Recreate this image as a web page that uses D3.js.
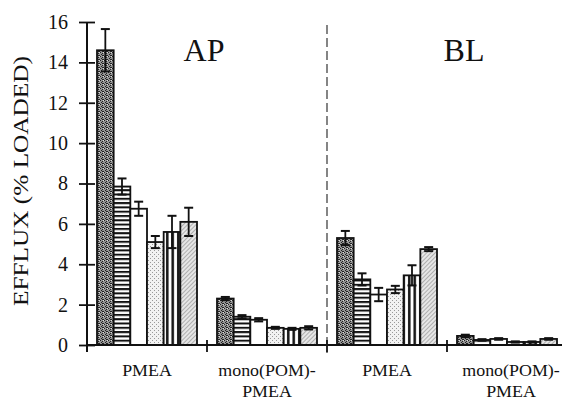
<!DOCTYPE html>
<html>
<head>
<meta charset="utf-8">
<script src="https://cdn.jsdelivr.net/npm/d3@7"></script>
<style>
  body { margin: 0; background: #fff; }
</style>
</head>
<body>
<svg id="chart" width="566" height="402"></svg>
<script>
// groups along the x axis
var groups = ["AP-PMEA", "AP-mono", "BL-PMEA", "BL-mono"];
var groupLabels = [["PMEA"], ["mono(POM)-", "PMEA"], ["PMEA"], ["mono(POM)-", "PMEA"]];
var sideLabels = ["AP", "BL"];

// six series (one per fill pattern), value per group
var series = ["s1", "s2", "s3", "s4", "s5", "s6"];
var means = [
  [14.6, 2.3, 5.3, 0.45],
  [7.85, 1.4, 3.25, 0.25],
  [6.75, 1.25, 2.5, 0.3],
  [5.1, 0.85, 2.75, 0.15],
  [5.6, 0.8, 3.45, 0.15],
  [6.1, 0.85, 4.75, 0.3]
];
var errs = [
  [1.05, 0.08, 0.35, 0.06],
  [0.4, 0.08, 0.3, 0.04],
  [0.35, 0.08, 0.33, 0.04],
  [0.3, 0.05, 0.18, 0.03],
  [0.8, 0.05, 0.5, 0.03],
  [0.7, 0.08, 0.1, 0.04]
];
var yTicks = [0, 2, 4, 6, 8, 10, 12, 14, 16];

var FONT = "Liberation Serif";
var svg = d3.select("#chart").attr("font-family", FONT);

var x0 = d3.scaleBand().domain(groups).range([87, 567]);
var x1 = d3.scaleBand().domain(series).range([10, 110]);
var y = d3.scaleLinear().domain([0, 16]).range([345, 22]);

/** patterns **/
var defs = svg.append("defs");

//dark stipple
var p1 = defs.append("pattern").attr("id", "pat0").attr("patternUnits", "userSpaceOnUse")
  .attr("width", 4).attr("height", 4);
p1.append("rect").attr("width", 4).attr("height", 4).attr("fill", "#959595");
[[0,0],[2,1],[1,2],[3,3],[2,3]].forEach(function(d){
  p1.append("rect").attr("x", d[0]).attr("y", d[1]).attr("width", 1).attr("height", 1).attr("fill", "#222");
});
p1.append("rect").attr("x", 3).attr("y", 0).attr("width", 1).attr("height", 1).attr("fill", "#ddd");

//horizontal stripes
var p2 = defs.append("pattern").attr("id", "pat1").attr("patternUnits", "userSpaceOnUse")
  .attr("width", 4).attr("height", 4.3);
p2.append("rect").attr("width", 4).attr("height", 4.3).attr("fill", "#fff");
p2.append("rect").attr("width", 4).attr("height", 2).attr("fill", "#111");

//plain white
var p3 = defs.append("pattern").attr("id", "pat2").attr("patternUnits", "userSpaceOnUse")
  .attr("width", 4).attr("height", 4);
p3.append("rect").attr("width", 4).attr("height", 4).attr("fill", "#fff");

//light dots
var p4 = defs.append("pattern").attr("id", "pat3").attr("patternUnits", "userSpaceOnUse")
  .attr("width", 4).attr("height", 4);
p4.append("rect").attr("width", 4).attr("height", 4).attr("fill", "#f2f2f2");
[[0,0],[2,2]].forEach(function(d){
  p4.append("rect").attr("x", d[0]).attr("y", d[1]).attr("width", 1).attr("height", 1).attr("fill", "#999");
});

//vertical stripes
var p5 = defs.append("pattern").attr("id", "pat4").attr("patternUnits", "userSpaceOnUse")
  .attr("width", 5.5).attr("height", 4);
p5.append("rect").attr("width", 5.5).attr("height", 4).attr("fill", "#fff");
p5.append("rect").attr("x", 1).attr("width", 2.5).attr("height", 4).attr("fill", "#111");

//light diagonal hatch
var p6 = defs.append("pattern").attr("id", "pat5").attr("patternUnits", "userSpaceOnUse")
  .attr("width", 3).attr("height", 3).attr("patternTransform", "rotate(45)");
p6.append("rect").attr("width", 3).attr("height", 3).attr("fill", "#e6e6e6");
p6.append("line").attr("x1", 0).attr("y1", 0).attr("x2", 0).attr("y2", 3)
  .attr("stroke", "#888").attr("stroke-width", 1.2);

/** bars **/
var barData = [];
series.forEach(function(s, i){
  groups.forEach(function(g, j){
    barData.push({s: s, si: i, g: g, v: means[i][j], e: errs[i][j]});
  });
});

var bars = svg.append("g").attr("class", "bars");

bars.selectAll("rect")
  .data(barData)
  .enter()
  .append("rect")
  .attr("x", function(d){ return x0(d.g) + x1(d.s); })
  .attr("y", function(d){ return y(d.v); })
  .attr("width", x1.bandwidth())
  .attr("height", function(d){ return y(0) - y(d.v); })
  .attr("fill", function(d){ return "url(#pat" + d.si + ")"; })
  .attr("stroke", "#111")
  .attr("stroke-width", 1.8);

//error bars
var eb = bars.selectAll(".err")
  .data(barData)
  .enter()
  .append("g")
  .attr("class", "err")
  .attr("transform", function(d){
    return "translate(" + (x0(d.g) + x1(d.s) + x1.bandwidth() / 2) + ",0)";
  });

eb.append("line")
  .attr("y1", function(d){ return y(d.v + d.e); })
  .attr("y2", function(d){ return y(d.v - d.e); })
  .attr("stroke", "#111").attr("stroke-width", 1.8);

eb.selectAll(".cap")
  .data(function(d){ return [d.v + d.e, d.v - d.e]; })
  .enter()
  .append("line")
  .attr("x1", -4.5).attr("x2", 4.5)
  .attr("y1", function(d){ return y(d); })
  .attr("y2", function(d){ return y(d); })
  .attr("stroke", "#111").attr("stroke-width", 2);

/** axes **/
var yAxis = svg.append("g").attr("class", "y-axis")
  .attr("transform", "translate(87,0)")
  .call(d3.axisLeft(y).tickValues(yTicks).tickSizeInner(8).tickSizeOuter(0).tickPadding(11));
yAxis.attr("font-family", FONT).attr("font-size", 20);
yAxis.select(".domain").attr("stroke", "#111").attr("stroke-width", 2)
  .attr("d", "M0," + y(16) + "V" + (y(0) + 7));
yAxis.selectAll(".tick line").attr("stroke", "#111").attr("stroke-width", 1.8)
  .attr("x1", -8).attr("x2", 8);
yAxis.selectAll(".tick text")
  .attr("font-family", FONT)
  .attr("font-size", 20).attr("fill", "#111");

//x axis line
svg.append("line")
  .attr("x1", 87).attr("x2", 562)
  .attr("y1", y(0)).attr("y2", y(0))
  .attr("stroke", "#111").attr("stroke-width", 2);

//group boundary ticks
svg.selectAll(".gtick")
  .data(groups.slice(1))
  .enter()
  .append("line")
  .attr("class", "gtick")
  .attr("x1", function(d){ return x0(d); })
  .attr("x2", function(d){ return x0(d); })
  .attr("y1", y(0) - 5).attr("y2", y(0) + 7)
  .attr("stroke", "#111").attr("stroke-width", 1.8);

//dashed separator between AP and BL
svg.append("line")
  .attr("x1", x0("BL-PMEA")).attr("x2", x0("BL-PMEA"))
  .attr("y1", 25).attr("y2", y(0) + 8)
  .attr("stroke", "#222").attr("stroke-width", 1.1)
  .attr("stroke-dasharray", "9,4");

//group labels (scanned type is a bit wide, so stretch horizontally)
var gl = svg.selectAll(".glabel")
  .data(groups)
  .enter()
  .append("g")
  .attr("class", "glabel")
  .attr("transform", function(d, i){
    var cx = x0(d) + x0.bandwidth() / 2 + (i == 3 ? 4 : 0);
    return "translate(" + cx + ",0) scale(1.12,1)";
  });

gl.selectAll("text")
  .data(function(d, i){ return groupLabels[i]; })
  .enter()
  .append("text")
  .attr("x", 0)
  .attr("y", function(d, k){ return 376 + k * 21; })
  .attr("text-anchor", "middle")
  .attr("font-family", FONT)
  .attr("font-size", 16)
  .attr("fill", "#111")
  .text(function(d){ return d; });

//AP / BL titles
svg.selectAll(".side")
  .data(sideLabels)
  .enter()
  .append("text")
  .attr("class", "side")
  .attr("x", function(d, i){ return i == 0 ? 204 : 464; })
  .attr("y", 61)
  .attr("text-anchor", "middle")
  .attr("font-family", FONT)
  .attr("font-size", 32)
  .attr("fill", "#111")
  .text(function(d){ return d; });

//y axis label
svg.append("text")
  .attr("transform", "translate(28,181) rotate(-90)")
  .attr("text-anchor", "middle")
  .attr("font-family", FONT)
  .attr("font-size", 20)
  .attr("textLength", 250)
  .attr("lengthAdjust", "spacingAndGlyphs")
  .attr("fill", "#111")
  .text("EFFLUX (% LOADED)");
</script>
</body>
</html>
